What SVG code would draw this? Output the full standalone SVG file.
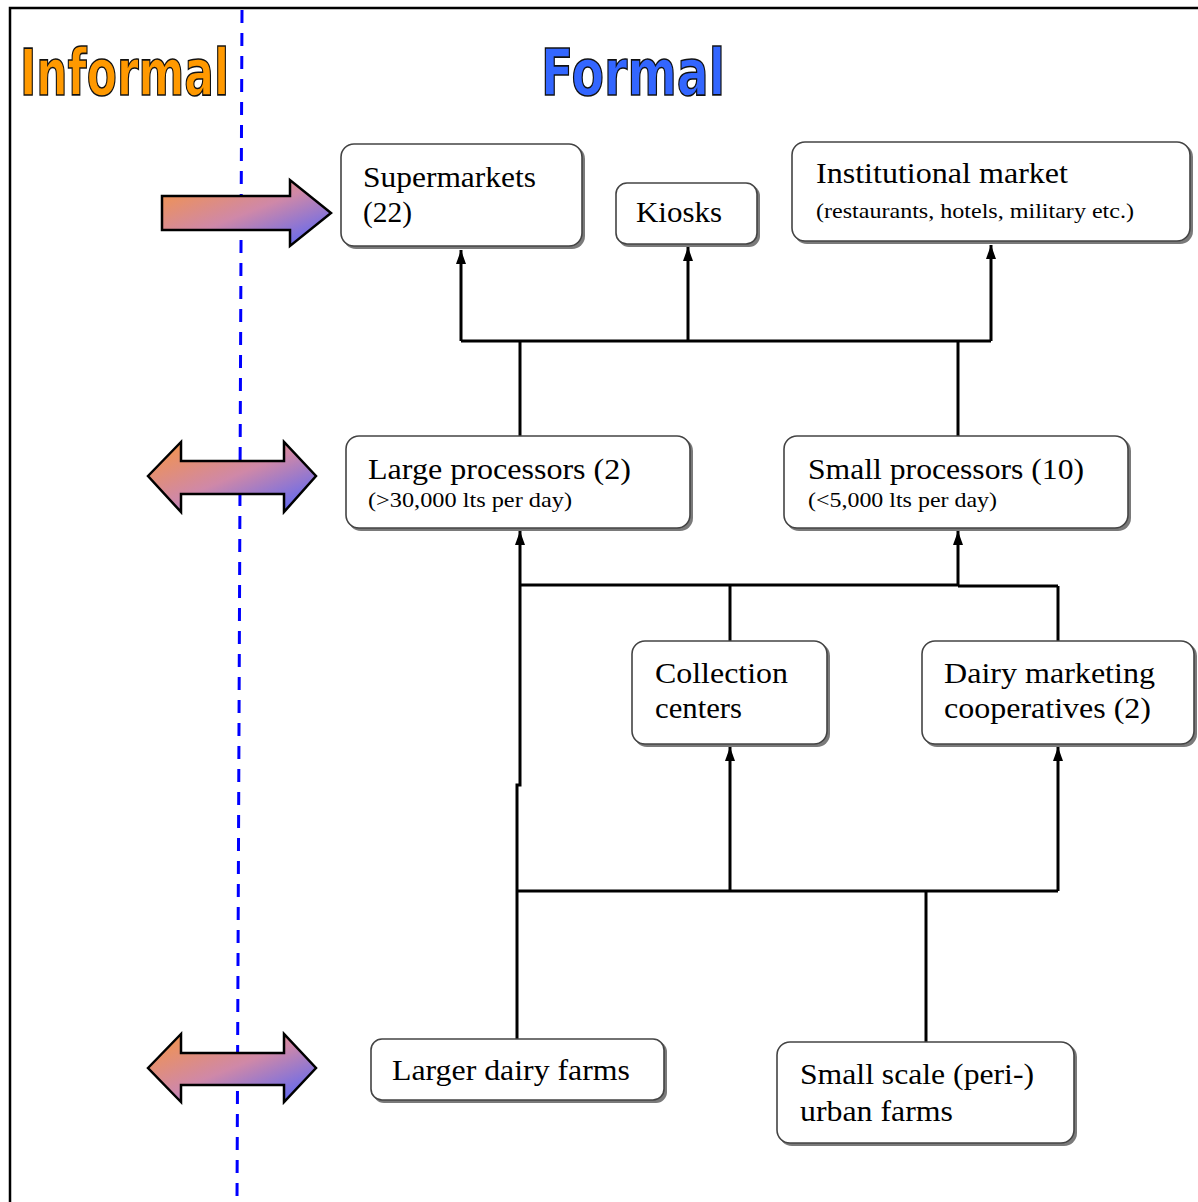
<svg xmlns="http://www.w3.org/2000/svg" width="1198" height="1202" viewBox="0 0 1198 1202">
<style>
.frame{fill:none;stroke:#000;stroke-width:2.5}
.dash{fill:none;stroke:#0000ff;stroke-width:3;stroke-dasharray:13 10}
.big{font-family:"DejaVu Sans","Liberation Sans",sans-serif;font-weight:bold;font-size:64px;stroke:#111;stroke-width:1.6}
.shadow{fill:#7a7a7a}
.box{fill:#fff;stroke:#444;stroke-width:1.6}
.t{font-family:"Liberation Serif","Times New Roman",serif;font-size:29px;fill:#000}
.s{font-family:"Liberation Serif","Times New Roman",serif;font-size:22px;fill:#000}
.conn path{fill:none;stroke:#000;stroke-width:3}
.arr{stroke:#000;stroke-width:2.5;stroke-linejoin:miter}
</style>
<defs>
<linearGradient id="g" x1="0" y1="0" x2="1" y2="1">
<stop offset="0" stop-color="#f7953f"/>
<stop offset="0.5" stop-color="#cf88a8"/>
<stop offset="1" stop-color="#4b63ff"/>
</linearGradient>
<marker id="ah" viewBox="0 0 14 10" refX="14" refY="5" markerWidth="14" markerHeight="10" markerUnits="userSpaceOnUse" orient="auto">
<path d="M0,0 L14,5 L0,10 z" fill="#000"/>
</marker>
</defs>
<rect width="1198" height="1202" fill="#fff"/>
<path class="frame" d="M10,1202 V8 H1198"/>
<path class="dash" d="M242,10 L237,1202"/>
<text class="big" x="20" y="95" textLength="209" lengthAdjust="spacingAndGlyphs" fill="#ff9900">Informal</text>
<text class="big" x="541" y="95" textLength="184" lengthAdjust="spacingAndGlyphs" fill="#3366ff">Formal</text>
<g id="arrow-top">
<polygon class="arr" fill="url(#g)" points="162,196 290,196 290,180 331,213 290,246 290,230 162,230"/>
</g>
<g id="arrow-mid">
<polygon class="arr" fill="url(#g)" points="148,476 181,442 181,461 284,461 284,442 316,476 284,512 284,494 181,494 181,512"/>
</g>
<g id="arrow-bottom">
<polygon class="arr" fill="url(#g)" points="148,1068 181,1034 181,1053 284,1053 284,1034 316,1068 284,1102 284,1085 181,1085 181,1102"/>
</g>
<g class="conn" id="connectors">
<path d="M461,341 H991"/>
<path d="M461,341 V250" marker-end="url(#ah)"/>
<path d="M688,341 V247" marker-end="url(#ah)"/>
<path d="M991,341 V245" marker-end="url(#ah)"/>
<path d="M520,436 V341"/>
<path d="M958,436 V341"/>
<path d="M520,585 H958"/>
<path d="M958,586 H1058"/>
<path d="M520,585 V531" marker-end="url(#ah)"/>
<path d="M958,586 V531" marker-end="url(#ah)"/>
<path d="M730,641 V585"/>
<path d="M1058,641 V586"/>
<path d="M517,1039 V785 H520 V585"/>
<path d="M517,891 H1058"/>
<path d="M730,891 V747" marker-end="url(#ah)"/>
<path d="M1058,891 V747" marker-end="url(#ah)"/>
<path d="M926,1042 V891"/>
</g>
<g id="supermarkets">
<rect class="shadow" x="343" y="146" width="242" height="103" rx="13"/>
<rect class="box" x="341" y="144" width="241" height="102" rx="13"/>
<text class="t" x="363" y="187" textLength="173" lengthAdjust="spacingAndGlyphs">Supermarkets</text>
<text class="t" x="363" y="222" textLength="49" lengthAdjust="spacingAndGlyphs">(22)</text>
</g>
<g id="kiosks">
<rect class="shadow" x="618" y="185" width="142" height="62" rx="11"/>
<rect class="box" x="616" y="183" width="141" height="61" rx="11"/>
<text class="t" x="636" y="222" textLength="86" lengthAdjust="spacingAndGlyphs">Kiosks</text>
</g>
<g id="institutional">
<rect class="shadow" x="794" y="144" width="399" height="100" rx="13"/>
<rect class="box" x="792" y="142" width="398" height="99" rx="13"/>
<text class="t" x="816" y="183" textLength="252" lengthAdjust="spacingAndGlyphs">Institutional market</text>
<text class="s" x="816" y="218" textLength="318" lengthAdjust="spacingAndGlyphs">(restaurants, hotels, military etc.)</text>
</g>
<g id="large-processors">
<rect class="shadow" x="348" y="438" width="345" height="93" rx="13"/>
<rect class="box" x="346" y="436" width="344" height="92" rx="13"/>
<text class="t" x="368" y="479" textLength="263" lengthAdjust="spacingAndGlyphs">Large processors (2)</text>
<text class="s" x="368" y="507" textLength="204" lengthAdjust="spacingAndGlyphs">(&gt;30,000 lts per day)</text>
</g>
<g id="small-processors">
<rect class="shadow" x="786" y="438" width="345" height="93" rx="13"/>
<rect class="box" x="784" y="436" width="344" height="92" rx="13"/>
<text class="t" x="808" y="479" textLength="276" lengthAdjust="spacingAndGlyphs">Small processors (10)</text>
<text class="s" x="808" y="507" textLength="189" lengthAdjust="spacingAndGlyphs">(&lt;5,000 lts per day)</text>
</g>
<g id="collection-centers">
<rect class="shadow" x="634" y="643" width="196" height="104" rx="13"/>
<rect class="box" x="632" y="641" width="195" height="103" rx="13"/>
<text class="t" x="655" y="683" textLength="133" lengthAdjust="spacingAndGlyphs">Collection</text>
<text class="t" x="655" y="718" textLength="87" lengthAdjust="spacingAndGlyphs">centers</text>
</g>
<g id="dairy-cooperatives">
<rect class="shadow" x="924" y="643" width="273" height="104" rx="13"/>
<rect class="box" x="922" y="641" width="272" height="103" rx="13"/>
<text class="t" x="944" y="683" textLength="211" lengthAdjust="spacingAndGlyphs">Dairy marketing</text>
<text class="t" x="944" y="718" textLength="207" lengthAdjust="spacingAndGlyphs">cooperatives (2)</text>
</g>
<g id="larger-dairy-farms">
<rect class="shadow" x="373" y="1041" width="294" height="62" rx="11"/>
<rect class="box" x="371" y="1039" width="293" height="61" rx="11"/>
<text class="t" x="392" y="1080" textLength="238" lengthAdjust="spacingAndGlyphs">Larger dairy farms</text>
</g>
<g id="small-scale-farms">
<rect class="shadow" x="779" y="1044" width="298" height="102" rx="13"/>
<rect class="box" x="777" y="1042" width="297" height="101" rx="13"/>
<text class="t" x="800" y="1084" textLength="234" lengthAdjust="spacingAndGlyphs">Small scale (peri-)</text>
<text class="t" x="800" y="1121" textLength="153" lengthAdjust="spacingAndGlyphs">urban farms</text>
</g>
</svg>
